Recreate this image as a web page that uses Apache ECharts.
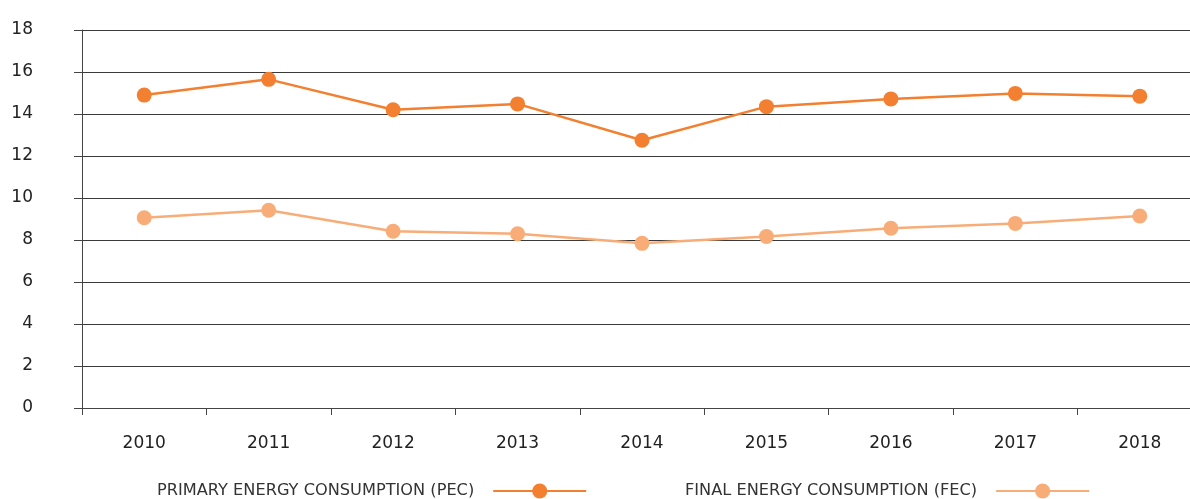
<!DOCTYPE html>
<html>
<head>
<meta charset="utf-8">
<script src="https://cdn.jsdelivr.net/npm/echarts@6/dist/echarts.min.js"></script>
<style>
html,body{margin:0;padding:0;background:#fff;overflow:hidden;}
#chart{width:1202px;height:499px;}
</style>
</head>
<body>
<div id="chart"></div>
<script>
const categories = ['2010','2011','2012','2013','2014','2015','2016','2017','2018'];
const pecValues = [14.9, 15.65, 14.2, 14.48, 12.75, 14.35, 14.72, 14.98, 14.85];
const fecValues = [9.06, 9.42, 8.42, 8.3, 7.84, 8.17, 8.56, 8.79, 9.14];
const seriesNames = ['PRIMARY ENERGY CONSUMPTION (PEC)', 'FINAL ENERGY CONSUMPTION (FEC)'];

const chart = echarts.init(document.getElementById('chart'));
const font = 'DejaVu Sans';
const legendCommon = {
  top: 478,
  itemWidth: 93,
  itemHeight: 19,
  itemGap: 20,
  align: 'right',
  textStyle: { fontFamily: font, fontSize: 16.2, color: '#333', padding: [0, 14, 0, 0] }
};
chart.setOption({
  animation: false,
  legend: [
    Object.assign({ left: 152, data: [seriesNames[0]] }, legendCommon),
    Object.assign({ left: 680, data: [seriesNames[1]] }, legendCommon)
  ],
  grid: { left: 82, right: 0, top: 30, bottom: 91, containLabel: false },
  xAxis: {
    type: 'category',
    data: categories,
    boundaryGap: true,
    axisLine: { show: true, lineStyle: { color: '#444', width: 1 } },
    axisTick: { show: true, length: 7, lineStyle: { color: '#444' } },
    axisLabel: { fontFamily: font, fontSize: 17, color: '#222', margin: 27 },
    splitLine: { show: false }
  },
  yAxis: {
    type: 'value',
    min: 0, max: 18, interval: 2,
    axisLine: { show: true, lineStyle: { color: '#444', width: 1 } },
    axisTick: { show: true, length: 8, lineStyle: { color: '#444' } },
    axisLabel: { fontFamily: font, fontSize: 17, color: '#222', margin: 49, align: 'right' },
    splitLine: { show: true, lineStyle: { color: '#3a3a3a', width: 1 } }
  },
  series: [
    {
      name: seriesNames[0], type: 'line', data: pecValues,
      symbol: 'circle', symbolSize: 15,
      lineStyle: { color: '#F37F30', width: 2.5 },
      itemStyle: { color: '#F37F30' }
    },
    {
      name: seriesNames[1], type: 'line', data: fecValues,
      symbol: 'circle', symbolSize: 15,
      lineStyle: { color: '#F8AD78', width: 2.5 },
      itemStyle: { color: '#F8AD78' }
    }
  ]
});
</script>
</body>
</html>
